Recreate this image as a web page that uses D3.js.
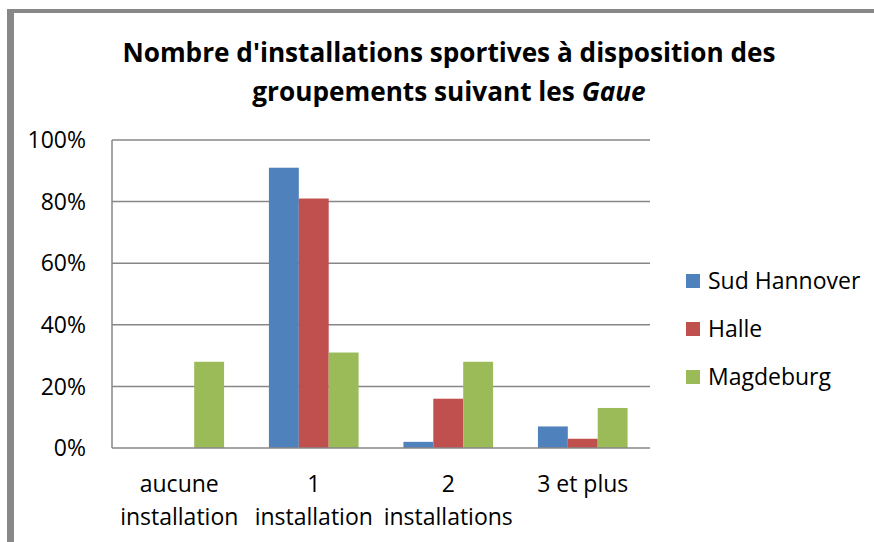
<!DOCTYPE html>
<html><head><meta charset="utf-8">
<script src="https://cdn.jsdelivr.net/npm/d3@7"></script>
<style>body{margin:0;background:#fff}svg{display:block}</style>
</head><body>
<svg id="c" width="874" height="542"></svg>
<script>
(function(){
const categories = [["aucune","installation"],["1","installation"],["2","installations"],["3 et plus"]];
const series = ["Sud Hannover","Halle","Magdeburg"];
const colors = ["#4F81BD","#C0504D","#9BBB59"];
const sudHannover = [0, 91, 2, 7];
const halle = [0, 81, 16, 3];
const magdeburg = [28, 31, 28, 13];
const yTicks = [0, 20, 40, 60, 80, 100];
const values = [sudHannover, halle, magdeburg];

const svg = d3.select("#c");
const font = "'Open Sans', sans-serif";

svg.append("rect").attr("x",7).attr("y",9).attr("width",874).attr("height",4).attr("fill","#888");
svg.append("rect").attr("x",7).attr("y",9).attr("width",7).attr("height",540).attr("fill","#888");

const title = svg.append("text").attr("text-anchor","middle").attr("font-family",font)
  .attr("font-weight","bold").attr("font-size",26.2).attr("fill","#000");
title.append("tspan").attr("x",449).attr("y",62).text("Nombre d'installations sportives à disposition des");
const t2 = title.append("tspan").attr("x",449).attr("y",101);
t2.append("tspan").text("groupements suivant les ");
t2.append("tspan").attr("font-style","italic").text("Gaue");

const pl = 112, pr = 650, pt = 140, pb = 448;
const x0 = d3.scaleBand().domain(d3.range(categories.length)).range([pl,pr]).paddingInner(0).paddingOuter(0);
const bw = x0.bandwidth()/(series.length + 1.5);
const x1 = d3.scaleBand().domain(d3.range(series.length)).range([bw*0.75, bw*0.75 + bw*series.length]);
const y = d3.scaleLinear().domain([0,100]).range([pb, pt]);

svg.append("g").selectAll("line").data(yTicks.filter(d=>d>0)).join("line")
  .attr("x1",pl).attr("x2",pr).attr("y1",d=>y(d)).attr("y2",d=>y(d))
  .attr("stroke","#878787").attr("stroke-width",1.5);

series.forEach((s,si)=>{
  svg.append("g").selectAll("rect").data(values[si]).join("rect")
    .attr("x",(d,i)=>x0(i)+x1(si)).attr("width",x1.bandwidth())
    .attr("y",d=>y(d)).attr("height",d=>y(0)-y(d))
    .attr("fill",colors[si]);
});

svg.append("line").attr("x1",pl).attr("x2",pl).attr("y1",pt).attr("y2",pb).attr("stroke","#878787").attr("stroke-width",1.5);
svg.append("line").attr("x1",pl).attr("x2",pr).attr("y1",pb).attr("y2",pb).attr("stroke","#878787").attr("stroke-width",1.5);

svg.append("g").selectAll("text").data(yTicks).join("text")
  .attr("x",86).attr("y",d=>y(d)).attr("dy","0.36em").attr("text-anchor","end")
  .attr("font-family",font).attr("font-size",23).attr("fill","#000").text(d=>d+"%");

const xg = svg.append("g").selectAll("text").data(categories).join("text")
  .attr("text-anchor","middle").attr("font-family",font).attr("font-size",23).attr("fill","#000");
xg.each(function(d,i){
  const t = d3.select(this);
  d.forEach((line,li)=>{
    t.append("tspan").attr("x",x0(i)+x0.bandwidth()/2).attr("y",492+li*33).text(line);
  });
});

const lg = svg.append("g").selectAll("g").data(series).join("g")
  .attr("transform",(d,i)=>`translate(686,${274+i*48})`);
lg.append("rect").attr("width",14).attr("height",14).attr("fill",(d,i)=>colors[i]);
lg.append("text").attr("x",22).attr("y",7).attr("dy","0.36em").attr("font-family",font)
  .attr("font-size",23).attr("fill","#000").text(d=>d);
})();
</script>
</body></html>
